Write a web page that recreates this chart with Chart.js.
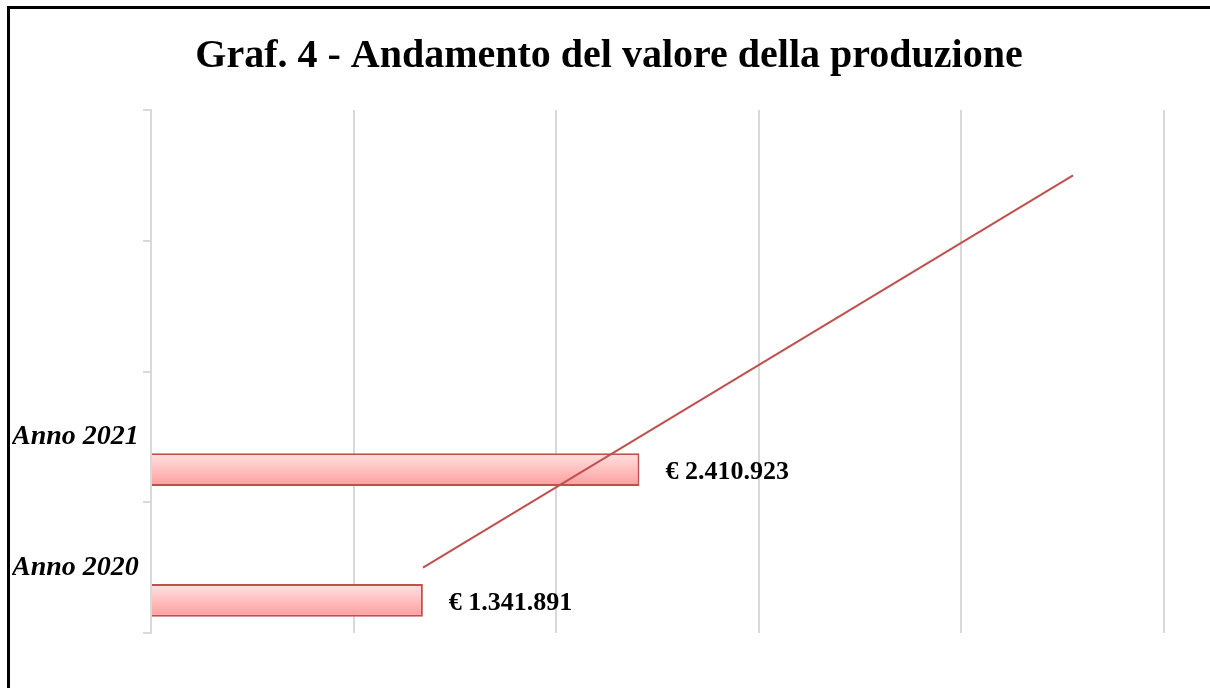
<!DOCTYPE html>
<html>
<head>
<meta charset="utf-8">
<script src="https://cdn.jsdelivr.net/npm/chart.js@4.4.1/dist/chart.umd.min.js"></script>
<style>
  html, body { margin: 0; padding: 0; background: #fff; }
  #wrap { position: relative; width: 1210px; height: 688px; }
  #frame { position: absolute; left: 7px; top: 6px; right: 0; bottom: 0;
           border-left: 3px solid #000; border-top: 3px solid #000; pointer-events: none; }
</style>
</head>
<body>
<div id="wrap">
  <canvas id="c" width="1210" height="688"></canvas>
  <div id="frame"></div>
</div>
<script>
/* Graf. 4 — valore della produzione, 2020 vs 2021, with linear trend line */
const TITLE = "Graf. 4 - Andamento del valore della produzione";
const categories = ["", "", "Anno 2021", "Anno 2020"];      // top → bottom
const produzione = [null, null, 2410923, 1341891];
const trend = [4551000, null, null, 1342500];               // trend line ends
const xTicksMax = 5000000, xStep = 1000000;

const SERIF = "'Liberation Serif', 'DejaVu Serif', serif";
const RED = "#c0504d", GRID = "#d9d9d9";
const BAR_PCT = 0.5;
const eur = v => "€ " + v.toLocaleString("de-DE");

// vertical pink gradient per bar, computed from the category band
function barFill(c) {
  const ch = c.chart, y = ch.scales.y;
  if (!y || !ch.chartArea) return "#ffb3b3";
  const band = (y.bottom - y.top) / categories.length;
  const mid = y.getPixelForValue(c.dataIndex) + band / 4;
  const half = band * BAR_PCT / 4;
  const g = ch.ctx.createLinearGradient(0, mid - half, 0, mid + half);
  g.addColorStop(0, "#ffe2e2");
  g.addColorStop(1, "#ff9d9d");
  return g;
}

const titlePlugin = {
  id: "graphTitle",
  afterDraw(chart) {
    const ctx = chart.ctx;
    ctx.save();
    ctx.font = "bold 40px " + SERIF;
    ctx.fillStyle = "#000";
    ctx.textAlign = "center";
    ctx.textBaseline = "alphabetic";
    ctx.fillText(TITLE, 609, 67);
    ctx.restore();
  },
};

const valueLabels = {
  id: "valueLabels",
  afterDatasetsDraw(chart) {
    const meta = chart.getDatasetMeta(1);
    const ctx = chart.ctx;
    ctx.save();
    ctx.font = "bold 26px " + SERIF;
    ctx.fillStyle = "#000";
    ctx.textAlign = "left";
    ctx.textBaseline = "middle";
    meta.data.forEach((el, i) => {
      const v = produzione[i];
      if (v == null) return;
      ctx.fillText(eur(v), el.x + 26, el.y + 3);
    });
    ctx.restore();
  },
};

new Chart(document.getElementById("c"), {
  type: "bar",
  data: {
    labels: categories,
    datasets: [
      { label: "", data: [null, null, null, null], order: 1,
        categoryPercentage: 1, barPercentage: BAR_PCT },
      { label: "Valore della produzione", data: produzione, order: 1,
        backgroundColor: barFill, borderColor: RED, borderWidth: 2,
        categoryPercentage: 1, barPercentage: BAR_PCT },
      { type: "line", label: "Lineare", data: trend, order: 0, indexAxis: "y",
        borderColor: RED, borderWidth: 2, pointRadius: 0, spanGaps: true, fill: false },
    ],
  },
  options: {
    indexAxis: "y",
    responsive: false,
    animation: false,
    layout: { padding: { left: 12, right: 46, top: 110, bottom: 55 } },
    plugins: { legend: { display: false }, tooltip: { enabled: false }, title: { display: false } },
    scales: {
      x: {
        min: 0, max: xTicksMax,
        ticks: { display: false, stepSize: xStep },
        grid: { color: GRID, lineWidth: 2, drawTicks: false },
        border: { display: false },
      },
      y: {
        afterFit(s) { s.width = 139; },
        ticks: { color: "#000", crossAlign: "far", padding: 0,
                 font: { family: SERIF, size: 28, weight: "bold", style: "italic" } },
        grid: { offset: true, drawOnChartArea: false, drawTicks: true, tickLength: 8,
                color: GRID, lineWidth: 2 },
        border: { display: true, color: GRID, width: 2 },
      },
    },
  },
  plugins: [titlePlugin, valueLabels],
});
</script>
</body>
</html>
